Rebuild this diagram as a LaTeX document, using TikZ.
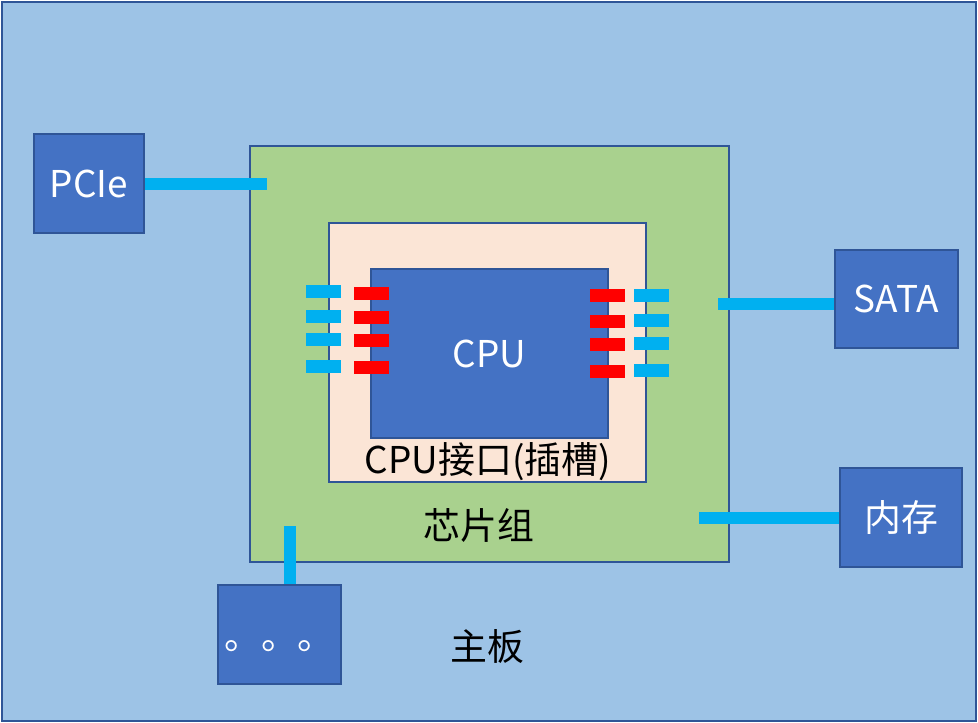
\documentclass[tikz,border=0pt]{standalone}
\usepackage{fontspec}
\setmainfont{Noto Sans CJK SC}
\usetikzlibrary{positioning,calc}
\usepackage{xcolor}

\definecolor{boardblue}{HTML}{9DC3E6}
\definecolor{chipgreen}{HTML}{A9D18E}
\definecolor{socketpeach}{HTML}{FBE5D6}
\definecolor{partblue}{HTML}{4472C4}
\definecolor{edgeblue}{HTML}{2F5597}
\definecolor{buscyan}{HTML}{00B0F0}

\tikzset{
  part/.style={rectangle, draw=edgeblue, line width=1.2pt, fill=partblue, text=white, inner sep=0pt},
  bus/.style={line width=0.24cm, buscyan},
  lbl/.style={font=\fontsize{21}{25}\selectfont}
}

\begin{document}
\begin{tikzpicture}[x=0.02cm, y=-0.02cm, font=\fontsize{21}{25}\selectfont]
  \useasboundingbox (0,0) rectangle (978,723);
  % board and chipset
  \node[part, fill=boardblue, minimum width=19.5cm, minimum height=14.4cm] (board) at (489,361.5) {};
  \node[part, fill=chipgreen, minimum width=9.58cm, minimum height=8.32cm] (chipset) at (489.5,354) {};
  \node[part, fill=socketpeach, minimum width=6.34cm, minimum height=5.18cm] (socket) at (487.5,352.5) {};
  \node[part, minimum width=4.74cm, minimum height=3.38cm] (cpu) at (489.5,353.5) {CPU};
  \node[lbl] (socketlbl) at (488,462) {CPU接口(插槽)};
  \node[lbl] (chiplbl) at (479,525) {芯片组};
  \node[lbl] (boardlbl) at (487,647) {主板};

  % pins
  \foreach \y in {285,310,333,360} \fill[buscyan] (306,\y) rectangle +(35,13);
  \foreach \y in {287,311,334,361} \fill[red] (354,\y) rectangle +(35,13);
  \foreach \y in {289,315,338,365} \fill[red] (590,\y) rectangle +(35,13);
  \foreach \y in {289,314,337,364} \fill[buscyan] (634,\y) rectangle +(35,13);

  % devices
  \node[part, minimum width=2.2cm, minimum height=1.98cm] (pcie) at (89,183.5) {PCIe};
  \node[part, minimum width=2.46cm, minimum height=1.96cm] (sata) at (896.5,299) {SATA};
  \node[part, minimum width=2.44cm, minimum height=1.98cm] (mem) at (901,517.5) {内存};
  \node[part, minimum width=2.46cm, minimum height=1.98cm] (dots) at (279.5,634.5) {\smash{\raisebox{-0.3cm}{。。。}}};

  % buses
  \coordinate (pcieend) at (267,184);
  \coordinate (sataend) at (718,304);
  \coordinate (memend) at (699,518);
  \coordinate (dotsend) at (289.5,526);
  \draw[bus] (pcie.east |- pcieend) -- (pcieend);
  \draw[bus] (sataend) -- (sataend -| sata.west);
  \draw[bus] (memend) -- (memend -| mem.west);
  \draw[bus] (dotsend) -- (dotsend |- dots.north);
\end{tikzpicture}
\end{document}
